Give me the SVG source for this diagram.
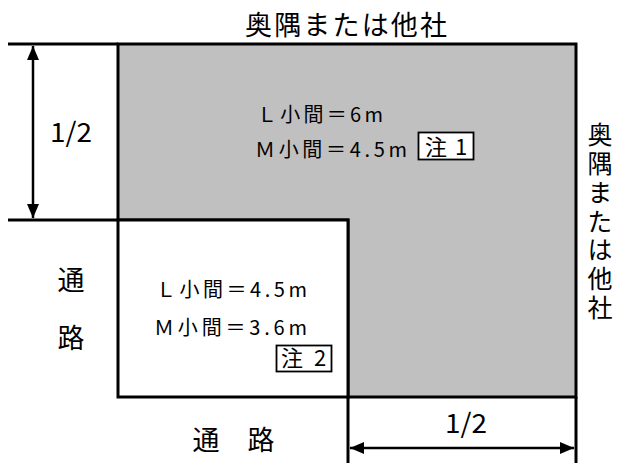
<svg xmlns="http://www.w3.org/2000/svg" width="618" height="463" viewBox="0 0 618 463">
<defs>
<style>
text{font-family:"Noto Sans CJK JP","Noto Sans",sans-serif;fill:#000}
.big{font-size:27px}
.mid{font-size:20px}
.note{font-size:22px}
.ln{stroke:#000;stroke-width:3;fill:none}
.dim{stroke:#000;stroke-width:2.5;fill:none}
</style>
<marker id="ah" viewBox="0 0 14 12" refX="14" refY="6" markerWidth="14" markerHeight="12" markerUnits="userSpaceOnUse" orient="auto-start-reverse">
<path d="M0,0 L14,6 L0,12 z" fill="#000"/>
</marker>
</defs>
<rect width="618" height="463" fill="#fff"/>
<g id="booth-main">
<path d="M118,44 H576 V397 H348 V220 H118 Z" fill="#c0c0c0" stroke="#000" stroke-width="3"/>
<text class="mid" x="257" y="122" textLength="126" lengthAdjust="spacing">Ｌ小間＝6m</text>
<text class="mid" x="255" y="157" textLength="152" lengthAdjust="spacing">Ｍ小間＝4.5m</text>
</g>
<g id="note1">
<rect x="418.5" y="132.5" width="55" height="27" fill="#fff" stroke="#000" stroke-width="1.8"/>
<text class="note" x="436" y="155" text-anchor="middle">注</text>
<text class="note" x="461" y="155" text-anchor="middle">1</text>
</g>
<g id="booth-corner">
<rect x="118" y="220" width="230" height="177" fill="#fff" stroke="#000" stroke-width="3"/>
<text class="mid" x="156" y="297" textLength="151" lengthAdjust="spacing">Ｌ小間＝4.5m</text>
<text class="mid" x="154" y="335" textLength="153" lengthAdjust="spacing">Ｍ小間＝3.6m</text>
</g>
<g id="note2">
<rect x="276.5" y="345.5" width="55" height="26" fill="#fff" stroke="#000" stroke-width="1.8"/>
<text class="note" x="292" y="366" text-anchor="middle">注</text>
<text class="note" x="320" y="366" text-anchor="middle">2</text>
</g>
<g id="label-top">
<text class="big" x="245" y="35" textLength="202" lengthAdjust="spacing">奥隅または他社</text>
</g>
<g id="label-right">
<text class="big" x="600" y="122" writing-mode="vertical-rl" style="font-size:25px" textLength="198" lengthAdjust="spacing">奥隅または他社</text>
</g>
<g id="label-left">
<text class="big" x="71" y="290" text-anchor="middle">通</text>
<text class="big" x="71" y="348" text-anchor="middle">路</text>
</g>
<g id="label-bottom">
<text class="big" x="206" y="450" text-anchor="middle">通</text>
<text class="big" x="261" y="450" text-anchor="middle">路</text>
</g>
<g id="dim-left">
<text class="big" x="50" y="142" textLength="42" lengthAdjust="spacingAndGlyphs">1/2</text>
</g>
<g id="dim-bottom">
<text class="big" x="445" y="433" textLength="42" lengthAdjust="spacingAndGlyphs">1/2</text>
</g>
<g id="connectors">
<line class="ln" x1="8" y1="44" x2="118" y2="44"/>
<line class="ln" x1="8" y1="220" x2="118" y2="220"/>
<line class="ln" x1="348" y1="397" x2="348" y2="463"/>
<line class="ln" x1="576" y1="397" x2="576" y2="463"/>
<line class="dim" x1="33" y1="46" x2="33" y2="218" marker-start="url(#ah)" marker-end="url(#ah)"/>
<line class="dim" x1="350" y1="448" x2="574" y2="448" marker-start="url(#ah)" marker-end="url(#ah)"/>
</g>
</svg>
